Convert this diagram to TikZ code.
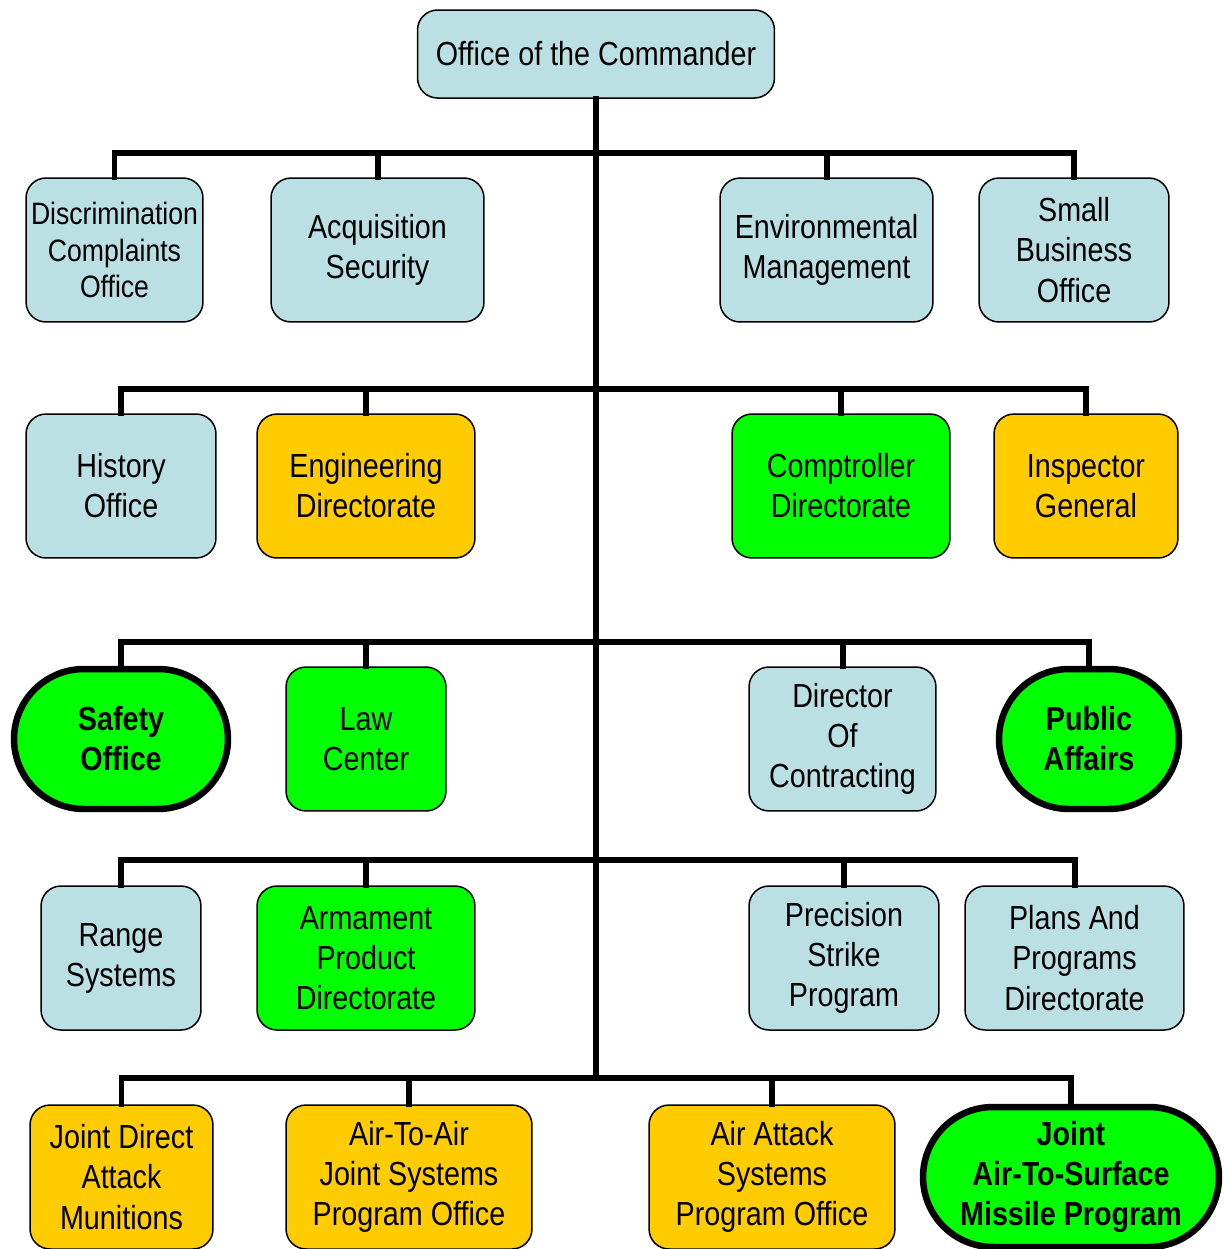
\documentclass[tikz,border=0pt]{standalone}
\usepackage{fontspec}
\setmainfont{Liberation Sans}[FakeStretch=0.86]
\definecolor{paleblue}{RGB}{187,224,227}
\definecolor{amber}{RGB}{255,204,0}
\definecolor{lime}{RGB}{0,255,0}
\begin{document}
\begin{tikzpicture}[x=0.02cm,y=-0.02cm,
        office/.style={draw=black,line width=0.03cm,rounded corners=0.4cm,
            align=center,inner sep=0pt,minimum height=2.88cm,
            font=\fontsize{19}{22.8}\selectfont},
        blueoffice/.style={office,fill=paleblue},
        amberoffice/.style={office,fill=amber},
        limeoffice/.style={office,fill=lime},
        keyoffice/.style={office,fill=lime,line width=0.13cm,rounded corners=1.4cm,
            font=\fontsize{19}{22.8}\selectfont\bfseries},
        link/.style={line width=0.12cm,line cap=rect}]
    \useasboundingbox (0,0) rectangle (1226,1249);
    % commander
    \node[blueoffice,minimum width=7.14cm,minimum height=1.76cm] (cmd) at (596,54) {Office of the Commander};
    % staff rows
    \node[blueoffice,minimum width=3.54cm,font=\fontsize{17.6}{21}\selectfont] (dco) at (114.5,250) {Discrimination\\Complaints\\Office};
    \node[blueoffice,minimum width=4.26cm] (acq) at (377.5,250) {Acquisition\\Security};
    \node[blueoffice,minimum width=4.26cm] (env) at (826.5,250) {Environmental\\Management};
    \node[blueoffice,minimum width=3.80cm] (sbo) at (1074,250) {Small\\Business\\Office};
    \node[blueoffice,minimum width=3.80cm] (hist) at (121,486) {History\\Office};
    \node[amberoffice,minimum width=4.36cm] (eng) at (366,486) {Engineering\\Directorate};
    \node[limeoffice,minimum width=4.36cm] (comp) at (841,486) {Comptroller\\Directorate};
    \node[amberoffice,minimum width=3.68cm] (insp) at (1086,486) {Inspector\\General};
    \node[keyoffice,minimum width=4.28cm,minimum height=2.80cm] (safe) at (121,739) {Safety\\Office};
    \node[limeoffice,minimum width=3.20cm] (law) at (366,739) {Law\\Center};
    \node[blueoffice,minimum width=3.74cm] (doc) at (842.5,739) {Director\\Of\\Contracting};
    \node[keyoffice,minimum width=3.60cm,minimum height=2.80cm] (pa) at (1089,739) {Public\\Affairs};
    \node[blueoffice,minimum width=3.20cm] (rng) at (121,958) {Range\\Systems};
    \node[limeoffice,minimum width=4.36cm] (arm) at (366,958) {Armament\\Product\\Directorate};
    \node[blueoffice,minimum width=3.80cm] (psp) at (844,958) {Precision\\Strike\\Program};
    \node[blueoffice,minimum width=4.38cm] (pap) at (1074.5,958) {Plans And\\Programs\\Directorate};
    % program offices
    \node[amberoffice,minimum width=3.66cm] (jdam) at (121.5,1177) {Joint Direct\\Attack\\Munitions};
    \node[amberoffice,minimum width=4.92cm] (aa) at (409,1177) {Air-To-Air\\Joint Systems\\Program Office};
    \node[amberoffice,minimum width=4.92cm] (aas) at (772,1177) {Air Attack\\Systems\\Program Office};
    \node[keyoffice,minimum width=5.92cm,minimum height=2.80cm] (jassm) at (1071,1177) {Joint\\Air-To-Surface\\Missile Program};
    % buses
    \coordinate (b1) at (596,153);
    \coordinate (b2) at (596,389);
    \coordinate (b3) at (596,642);
    \coordinate (b4) at (596,860);
    \coordinate (b5) at (596,1078);
    \draw[link] (cmd.south) -- (b5);
    \draw[link] (dco.north) -- (dco.north |- b1) -- (sbo.north |- b1) -- (sbo.north);
    \draw[link] (acq.north) -- (acq.north |- b1);
    \draw[link] (env.north) -- (env.north |- b1);
    \draw[link] (hist.north) -- (hist.north |- b2) -- (insp.north |- b2) -- (insp.north);
    \draw[link] (eng.north) -- (eng.north |- b2);
    \draw[link] (comp.north) -- (comp.north |- b2);
    \draw[link] (safe.north) -- (safe.north |- b3) -- (pa.north |- b3) -- (pa.north);
    \draw[link] (law.north) -- (law.north |- b3);
    \draw[link] (doc.north) -- (doc.north |- b3);
    \draw[link] (rng.north) -- (rng.north |- b4) -- (pap.north |- b4) -- (pap.north);
    \draw[link] (arm.north) -- (arm.north |- b4);
    \draw[link] (psp.north) -- (psp.north |- b4);
    \draw[link] (jdam.north) -- (jdam.north |- b5) -- (jassm.north |- b5) -- (jassm.north);
    \draw[link] (aa.north) -- (aa.north |- b5);
    \draw[link] (aas.north) -- (aas.north |- b5);
\end{tikzpicture}
\end{document}
